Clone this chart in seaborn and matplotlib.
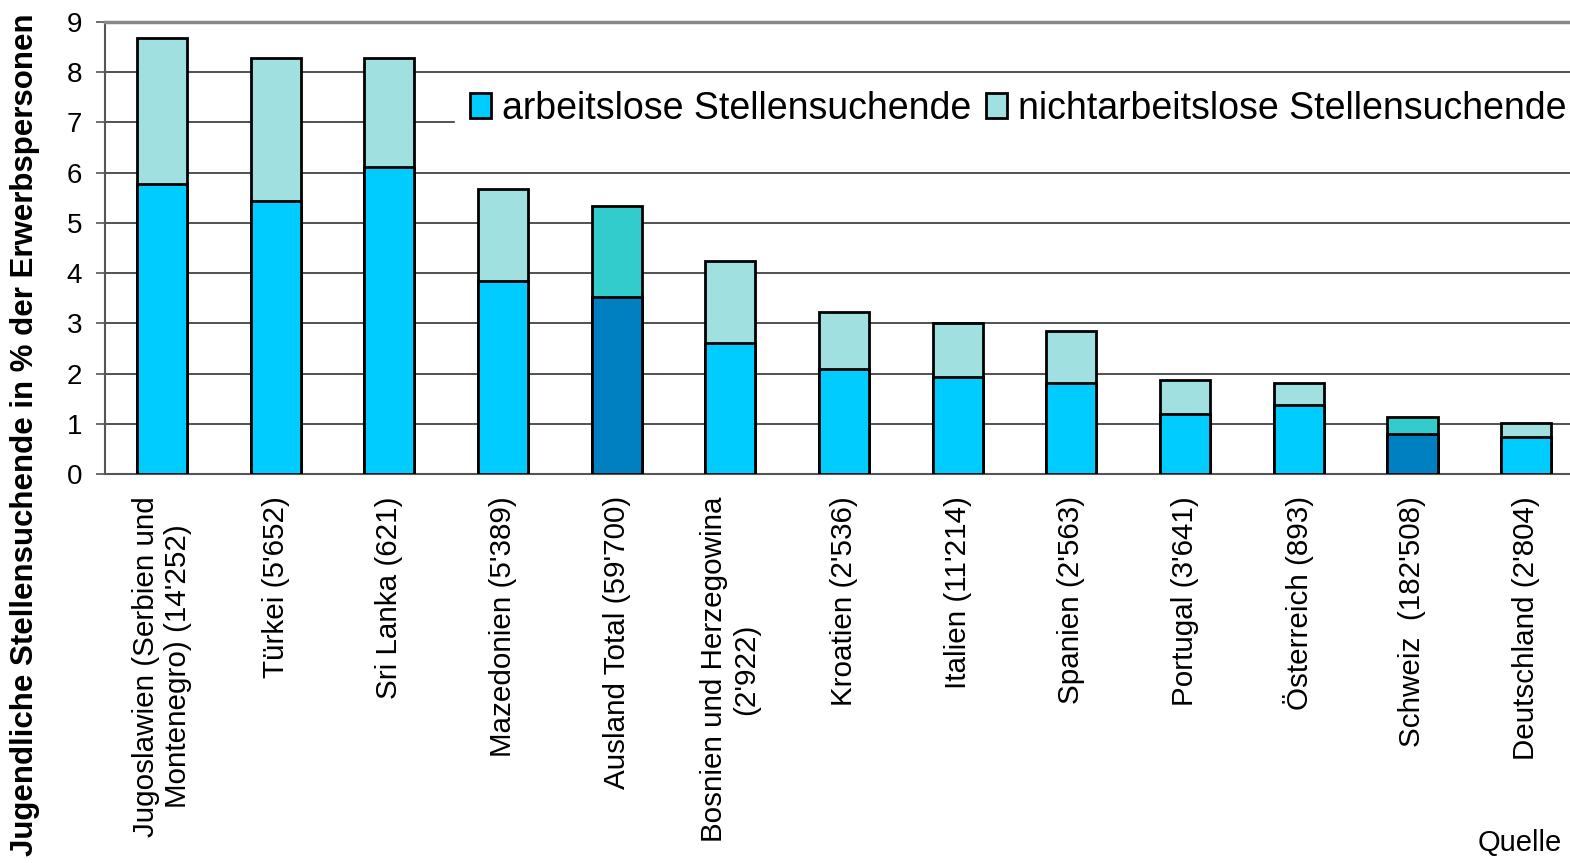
import numpy as np
import pandas as pd
import matplotlib
matplotlib.use("Agg")
import matplotlib.pyplot as plt
from matplotlib.patches import Patch
import seaborn as sns

# values
laender = ["Jugoslawien (Serbien und\nMontenegro) (14'252)", "Türkei (5'652)", "Sri Lanka (621)",
           "Mazedonien (5'389)", "Ausland Total (59'700)", "Bosnien und Herzegowina\n(2'922)",
           "Kroatien (2'536)", "Italien (11'214)", "Spanien (2'563)", "Portugal (3'641)",
           "Österreich (893)", "Schweiz  (182'508)", "Deutschland (2'804)"]
arbeitslos = [5.78, 5.44, 6.12, 3.84, 3.53, 2.61, 2.09, 1.93, 1.81, 1.20, 1.37, 0.80, 0.74]
nichtarbeitslos = [2.90, 2.85, 2.17, 1.84, 1.81, 1.63, 1.14, 1.08, 1.04, 0.67, 0.44, 0.34, 0.28]
highlight = ["Ausland Total (59'700)", "Schweiz  (182'508)"]

df = pd.DataFrame({"land": laender, "arbeitslos": arbeitslos, "nicht": nichtarbeitslos})
df["total"] = df["arbeitslos"] + df["nicht"]

pal_unten = {l: ("#0080C0" if l in highlight else "#00CCFF") for l in laender}
pal_oben = {l: ("#33CCCC" if l in highlight else "#A0E0E0") for l in laender}

sns.set_style("white", {"text.color": "black", "axes.labelcolor": "black",
                        "xtick.color": "black", "ytick.color": "black"})
plt.rcParams["font.family"] = ["Liberation Sans", "DejaVu Sans"]

fig = plt.figure(figsize=(15.7, 8.63), dpi=100)
ax = fig.add_axes([0.0669, 0.4508, 0.9414, 0.5237])

bar_kw = dict(width=0.44, edgecolor="black", linewidth=2.0, legend=False, ax=ax, order=laender,
              saturation=1, zorder=3)
sns.barplot(data=df, x="land", y="total", hue="land", palette=pal_oben, **bar_kw)
sns.barplot(data=df, x="land", y="arbeitslos", hue="land", palette=pal_unten, **bar_kw)

ax.set_xlim(-0.5, len(laender) - 0.5)
ax.set_ylim(0, 9)
ax.set_yticks(range(10))
ax.grid(axis="y", color="#222222", linewidth=1.1, zorder=0)
ax.set_axisbelow(True)

ax.set_xticks(range(len(laender)))
ax.set_xticklabels(laender, rotation=90, ha="center", va="top", multialignment="center", fontsize=21.3)
ax.set_xticks(np.arange(-0.5, len(laender), 1), minor=True)
ax.tick_params(axis="x", which="major", length=0, pad=16, labelcolor="black")
ax.tick_params(axis="x", which="minor", length=7, width=1.2, color="#555555", direction="out")
ax.tick_params(axis="y", labelsize=20, length=6.5, width=1.2, color="#555555", direction="out", pad=10,
               left=True, labelcolor="black")
ax.set_xlabel("")
ax.set_ylabel("")

for s in ["left", "bottom"]:
    ax.spines[s].set_color("#555555")
    ax.spines[s].set_linewidth(1.5)
ax.spines["top"].set_color("#888888")
ax.spines["top"].set_linewidth(2.5)
ax.spines["right"].set_visible(False)

handles = [Patch(facecolor="#00CCFF", edgecolor="black", linewidth=2.0, label="arbeitslose Stellensuchende"),
           Patch(facecolor="#A0E0E0", edgecolor="black", linewidth=2.0, label="nichtarbeitslose Stellensuchende")]
leg = fig.legend(handles=handles, loc="upper left", bbox_to_anchor=(0.29, 0.912), ncol=2,
                 fontsize=27, frameon=True, facecolor="white", edgecolor="white", framealpha=1,
                 handlelength=0.55, handleheight=0.65, handletextpad=0.3, columnspacing=0.4,
                 borderpad=0.4, borderaxespad=0, fancybox=False, labelcolor="black")
leg.set_zorder(5)

fig.text(25 / 1570, 1 - 435 / 863, "Jugendliche Stellensuchende in % der Erwerbspersonen",
         rotation=90, ha="center", va="center", fontsize=22.5, fontweight="bold", color="black")
fig.text(1478 / 1570, 1 - 843 / 863, "Quelle", ha="left", va="center", fontsize=21, color="black")

fig.savefig("out.png", dpi=100)
